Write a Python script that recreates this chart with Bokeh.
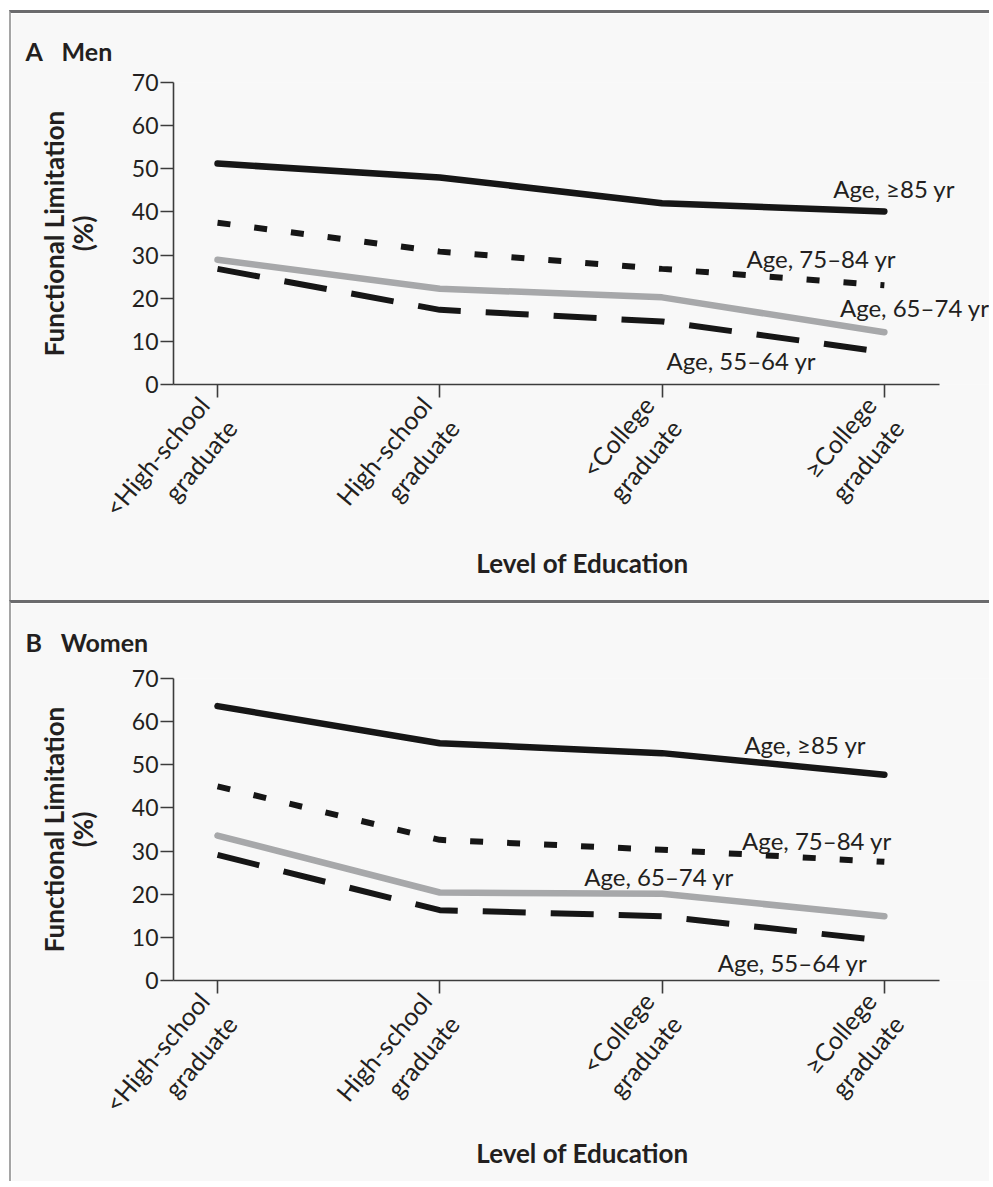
import math
from bokeh.plotting import figure
from bokeh.models import FixedTicker, Range1d, ColumnDataSource
from bokeh.layouts import column
from bokeh.embed import file_html
from bokeh.resources import INLINE
from bokeh.core.properties import value

# ---------------- data ----------------
education = ["<High-school\ngraduate", "High-school\ngraduate",
             "<College\ngraduate", "\u2265College\ngraduate"]
edu_pos = [0, 1, 2, 3]
y_ticks = [0, 10, 20, 30, 40, 50, 60, 70]
age_groups = ["Age, \u226585 yr", "Age, 75\u201384 yr", "Age, 65\u201374 yr", "Age, 55\u201364 yr"]

men_85plus = [51.2, 48.0, 42.0, 40.1]
men_75_84 = [37.5, 30.8, 26.8, 23.0]
men_65_74 = [28.9, 22.2, 20.2, 12.1]
men_55_64 = [26.8, 17.3, 14.6, 7.5]

women_85plus = [63.6, 55.0, 52.7, 47.7]
women_75_84 = [45.0, 32.6, 30.3, 27.5]
women_65_74 = [33.6, 20.4, 20.1, 14.9]
women_55_64 = [29.1, 16.3, 14.9, 9.2]

# label anchor positions (annotation placement, data units)
men_label_x = [2.77, 2.38, 2.80, 2.02]
men_label_y = [45.5, 29.2, 17.9, 5.6]
women_label_x = [2.37, 2.36, 1.65, 2.25]
women_label_y = [54.6, 32.4, 24.2, 4.2]

FONT = "Lato"
TXT = "#231f20"
BG = "#f8f8f8"
BLACK = "#161616"
GRAY = "#a7a8aa"

styles_list = [
    dict(line_color=BLACK, line_width=6.5, line_dash="solid", line_cap="round"),
    dict(line_color=BLACK, line_width=6, line_dash="13 24", line_cap="butt"),
    dict(line_color=GRAY, line_width=6.5, line_dash="solid", line_cap="round"),
    dict(line_color=BLACK, line_width=6, line_dash="43 25", line_cap="butt"),
]


def make_panel(title, series, lab_x, lab_y, height, border_top, border_bottom,
               margin, title_standoff, xlabel_standoff):
    p = figure(width=980, height=height, output_backend="svg", toolbar_location=None,
               x_range=Range1d(-0.198, 3.482), y_range=Range1d(0, 70),
               min_border_left=162, min_border_right=0,
               min_border_top=border_top, min_border_bottom=border_bottom,
               background_fill_color=BG, border_fill_color=BG,
               outline_line_color=None, margin=margin,
               styles={"border-top": "3px solid #6b6b6d",
                       "border-left": "2px solid #a5a5a5"})
    p.grid.visible = False

    for ys, st in zip(series, styles_list):
        p.line(edu_pos, ys, **st)

    src = ColumnDataSource(dict(x=lab_x, y=lab_y, t=age_groups))
    p.text(x="x", y="y", text="t", source=src, text_font=value(FONT),
           text_font_size="24px", text_color=TXT, text_align="left",
           text_baseline="middle")

    # panel title
    p.title.text = title
    p.title.align = "left"
    p.title.offset = -148
    p.title.standoff = title_standoff
    p.title.text_font = FONT
    p.title.text_font_size = "25px"
    p.title.text_font_style = "bold"
    p.title.text_color = TXT

    # axes
    xa = p.xaxis[0]
    xa.ticker = FixedTicker(ticks=edu_pos)
    xa.major_label_overrides = {i: lab for i, lab in zip(edu_pos, education)}
    xa.bounds = (-0.198, 3.248)
    xa.major_label_orientation = math.radians(50)
    xa.axis_label = "Level of Education"
    xa.axis_label_standoff = xlabel_standoff

    ya = p.yaxis[0]
    ya.ticker = FixedTicker(ticks=y_ticks)
    ya.axis_label = "Functional Limitation\n(%)"
    ya.axis_label_standoff = 30
    ya.axis_label_text_line_height = 0.9

    for ax in (xa, ya):
        ax.axis_line_color = "#3c3c3c"
        ax.axis_line_width = 1.6
        ax.major_tick_line_color = "#3c3c3c"
        ax.major_tick_line_width = 1.6
        ax.major_tick_in = 0
        ax.major_tick_out = 13
        ax.minor_tick_line_color = None
        ax.major_label_text_font = FONT
        ax.major_label_text_font_size = "23px"
        ax.major_label_text_color = TXT
        ax.axis_label_text_font = FONT
        ax.axis_label_text_font_size = "26px"
        ax.axis_label_text_font_style = "bold"
        ax.axis_label_text_color = TXT
    xa.major_label_text_font_size = "25px"
    ya.major_label_standoff = 2
    xa.major_label_standoff = 14
    return p


pA = make_panel("A\u2003Men",
                [men_85plus, men_75_84, men_65_74, men_55_64],
                men_label_x, men_label_y, 590, 69, 219, (10, 0, 0, 9), 34, -22)
pB = make_panel("B\u2003Women",
                [women_85plus, women_75_84, women_65_74, women_55_64],
                women_label_x, women_label_y, 581, 74, 204, (0, 0, 0, 9), 43, -28)

layout = column(pA, pB, spacing=0)
with open("out.html", "w") as f:
    f.write(file_html(layout, INLINE))
